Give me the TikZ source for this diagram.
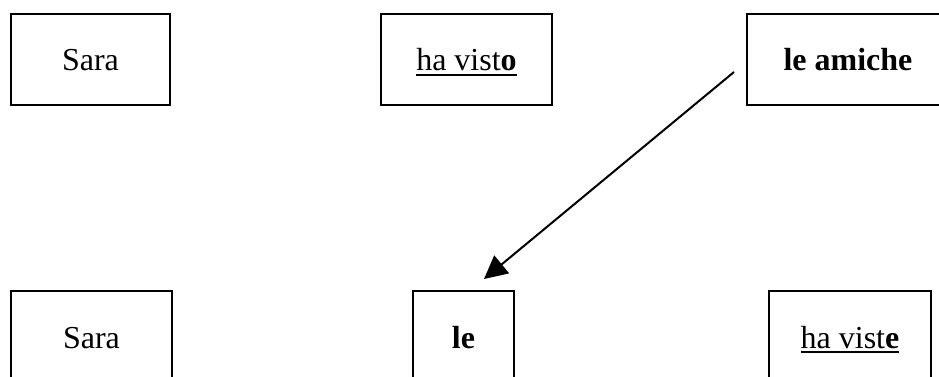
\documentclass[tikz,border=0pt]{standalone}
\usepackage{fontspec}
\setmainfont{Liberation Serif}
\usetikzlibrary{arrows.meta}
\newcommand\ulin[1]{\vtop{\hbox{#1}\kern2.4pt\hrule height 2.2pt}}
\tikzset{
  wbox/.style={draw, line width=2.2pt, inner sep=0pt, minimum height=91pt,
    text height=23pt, text depth=0pt, font=\fontsize{32}{38}\selectfont},
  link/.style={line width=2pt, -{Triangle[length=23pt,width=23pt]}}
}
\begin{document}
\begin{tikzpicture}[x=1pt,y=-1pt]
\useasboundingbox (0,0) rectangle (939,377);
\clip (0,0) rectangle (939,377);
% top row
\node[wbox, minimum width=159pt] (s1) at (90.5,59.5) {Sara};
\node[wbox, minimum width=171pt] (hv1) at (466.5,59.5) {\ulin{ha vist\textbf{o}}};
\node[wbox, minimum width=202pt] (am) at (848,59.5) {\textbf{le amiche}};
% bottom row
\node[wbox, minimum width=161pt] (s2) at (91.5,336.5) {Sara};
\node[wbox, minimum width=101pt] (le) at (463.5,336.5) {\textbf{le}};
\node[wbox, minimum width=162pt] (hv2) at (850,336.5) {\ulin{ha vist\textbf{e}}};
% arrow
\coordinate (as) at (734,72);
\coordinate (at) at (484,279);
\draw[link] (as) -- (at);
\end{tikzpicture}
\end{document}
